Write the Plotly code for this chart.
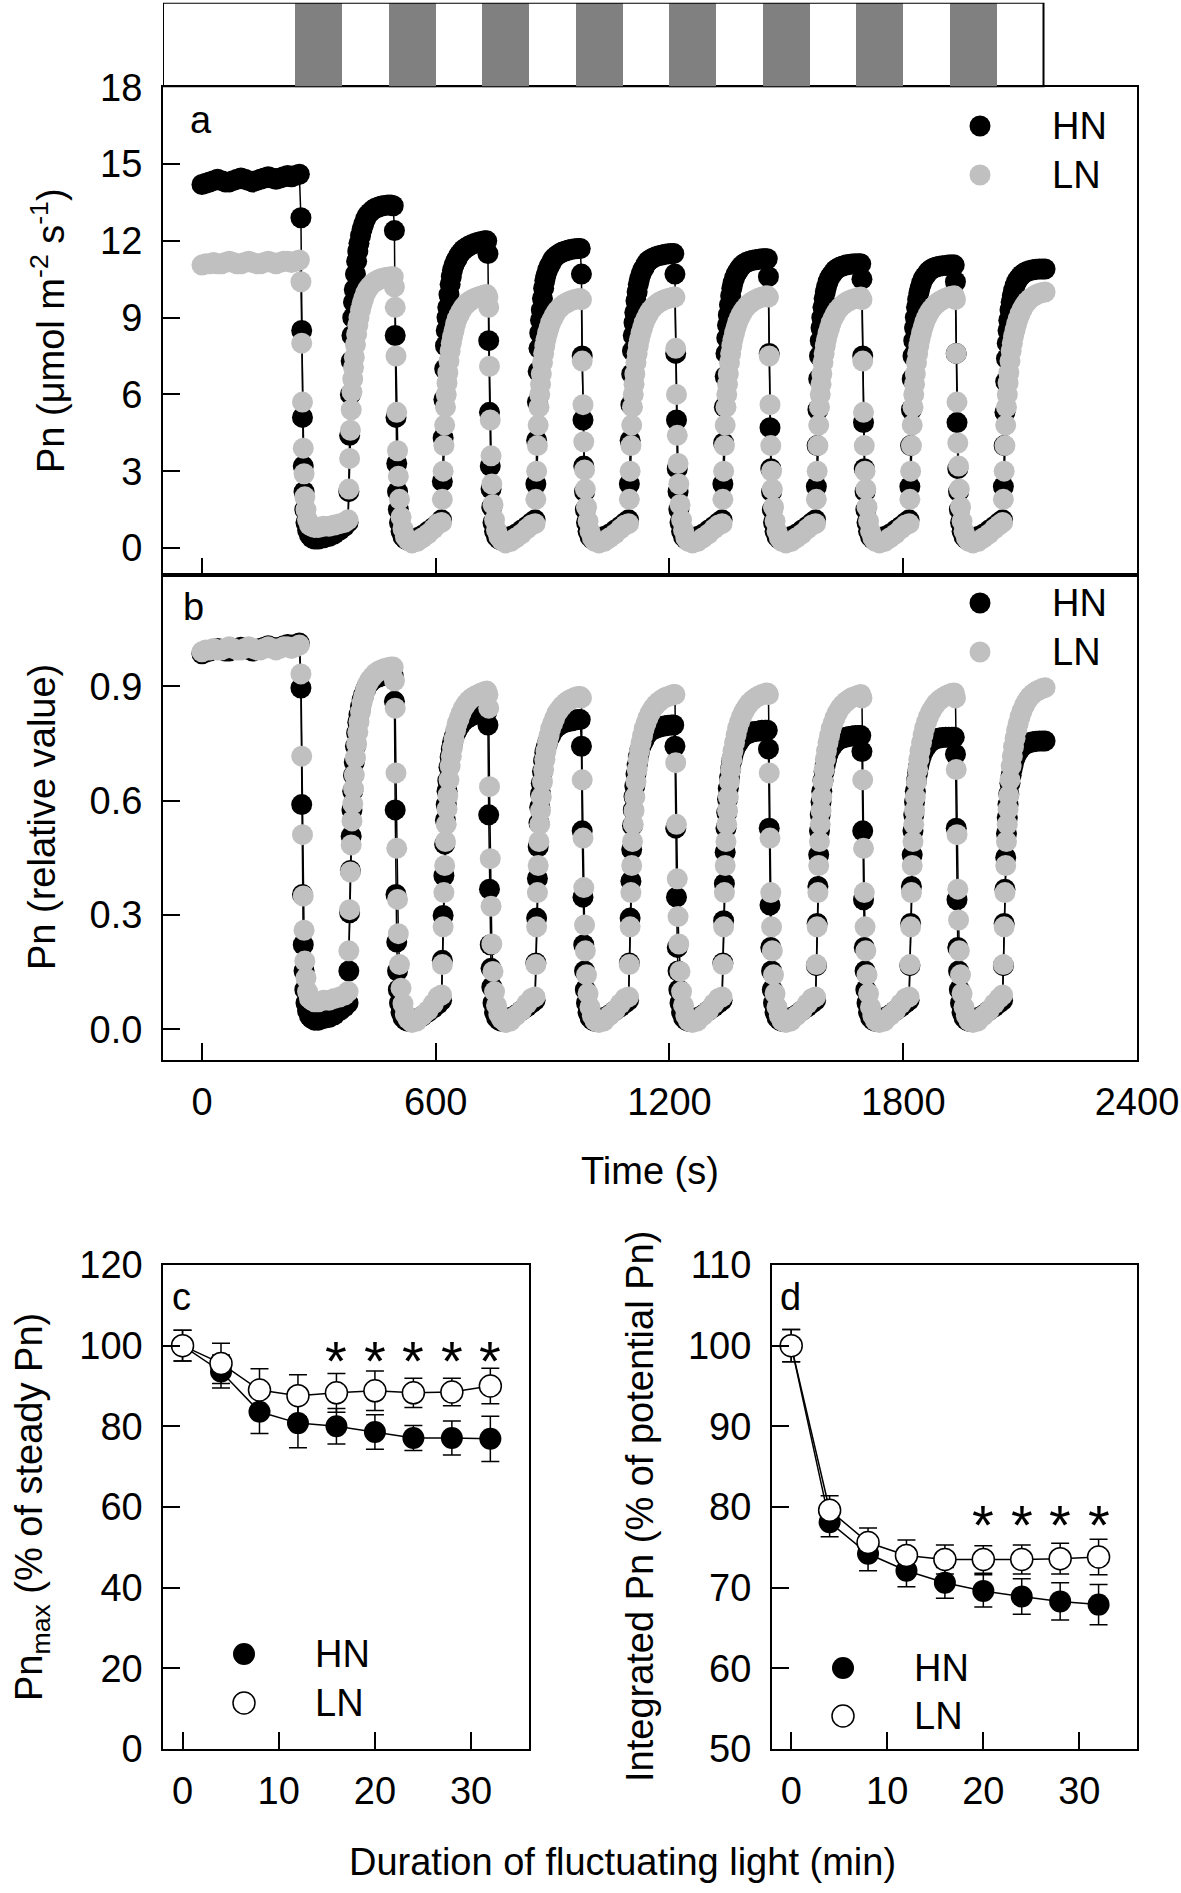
import plotly.graph_objects as go

# ---------------- light regime (top bar) ----------------
dark_start = [240, 480, 720, 960, 1200, 1440, 1680, 1920]
dark_dur = [120, 120, 120, 120, 120, 120, 120, 120]
light_program_end = 2160

# ---------------- panels a / b : time course ----------------
t = [0, 10, 20, 30, 40, 50, 60, 70, 80, 90, 100, 110, 120, 130, 140, 150, 160, 170, 180, 190, 200, 210, 220, 230, 240, 250,
     254, 256, 258, 260, 262, 264, 267, 271, 276, 282, 289, 299, 312, 326, 340, 354, 366,
     375, 377, 379, 381, 383, 385, 387, 389, 391, 394, 397, 400, 403, 407, 411, 415, 420, 425, 431, 438, 445, 453, 461, 469, 477, 485, 491,
     494, 496, 498, 500, 502, 504, 507, 511, 516, 522, 529, 539, 552, 566, 580, 594, 606,
     615, 617, 619, 621, 623, 625, 627, 629, 631, 634, 637, 640, 643, 647, 651, 655, 660, 665, 671, 678, 685, 693, 701, 709, 717, 725, 731,
     734, 736, 738, 740, 742, 744, 747, 751, 756, 762, 769, 779, 792, 806, 820, 834, 846,
     855, 857, 859, 861, 863, 865, 867, 869, 871, 874, 877, 880, 883, 887, 891, 895, 900, 905, 911, 918, 925, 933, 941, 949, 957, 965, 971,
     974, 976, 978, 980, 982, 984, 987, 991, 996, 1002, 1009, 1019, 1032, 1046, 1060, 1074, 1086,
     1095, 1097, 1099, 1101, 1103, 1105, 1107, 1109, 1111, 1114, 1117, 1120, 1123, 1127, 1131, 1135, 1140, 1145, 1151, 1158, 1165, 1173, 1181, 1189, 1197, 1205, 1211,
     1214, 1216, 1218, 1220, 1222, 1224, 1227, 1231, 1236, 1242, 1249, 1259, 1272, 1286, 1300, 1314, 1326,
     1335, 1337, 1339, 1341, 1343, 1345, 1347, 1349, 1351, 1354, 1357, 1360, 1363, 1367, 1371, 1375, 1380, 1385, 1391, 1398, 1405, 1413, 1421, 1429, 1437, 1445, 1451,
     1454, 1456, 1458, 1460, 1462, 1464, 1467, 1471, 1476, 1482, 1489, 1499, 1512, 1526, 1540, 1554, 1566,
     1575, 1577, 1579, 1581, 1583, 1585, 1587, 1589, 1591, 1594, 1597, 1600, 1603, 1607, 1611, 1615, 1620, 1625, 1631, 1638, 1645, 1653, 1661, 1669, 1677, 1685, 1691,
     1694, 1696, 1698, 1700, 1702, 1704, 1707, 1711, 1716, 1722, 1729, 1739, 1752, 1766, 1780, 1794, 1806,
     1815, 1817, 1819, 1821, 1823, 1825, 1827, 1829, 1831, 1834, 1837, 1840, 1843, 1847, 1851, 1855, 1860, 1865, 1871, 1878, 1885, 1893, 1901, 1909, 1917, 1925, 1931,
     1934, 1936, 1938, 1940, 1942, 1944, 1947, 1951, 1956, 1962, 1969, 1979, 1992, 2006, 2020, 2034, 2046,
     2055, 2057, 2059, 2061, 2063, 2065, 2067, 2069, 2071, 2074, 2077, 2080, 2083, 2087, 2091, 2095, 2100, 2105, 2111, 2118, 2125, 2133, 2141, 2149, 2157, 2164]

# Pn (umol m-2 s-1), HN
hn_a = [14.2, 14.25, 14.3, 14.35, 14.4, 14.35, 14.3, 14.3, 14.35, 14.4, 14.45, 14.4, 14.35, 14.3, 14.35, 14.4, 14.45, 14.5, 14.45, 14.4, 14.45, 14.5, 14.55, 14.5, 14.55, 14.6,
        12.9, 8.5, 5.1, 3.2, 2.2, 1.5, 1.0, 0.7, 0.5, 0.4, 0.35, 0.35, 0.4, 0.45, 0.55, 0.7, 0.85,
        1.0, 2.2, 4.4, 6.0, 7.3, 8.3, 9.0, 9.6, 10.1, 10.7, 11.2, 11.6, 11.9, 12.2, 12.45, 12.65, 12.85, 13.0, 13.1, 13.2, 13.27, 13.32, 13.36, 13.38, 13.4, 13.4, 13.37,
        12.4, 8.3, 5.1, 3.3, 2.2, 1.5, 1.0, 0.65, 0.45, 0.35, 0.3, 0.3, 0.4, 0.5, 0.65, 0.8, 0.95,
        1.1, 2.6, 4.3, 5.8, 7.0, 7.9, 8.5, 9.0, 9.4, 9.9, 10.3, 10.6, 10.85, 11.05, 11.2, 11.3, 11.45, 11.55, 11.65, 11.73, 11.8, 11.86, 11.9, 11.94, 11.97, 12.0, 12.0,
        11.5, 8.1, 5.3, 3.2, 2.3, 1.6, 1.0, 0.65, 0.45, 0.35, 0.3, 0.35, 0.45, 0.55, 0.7, 0.85, 1.0,
        1.1, 2.5, 4.2, 5.7, 6.9, 7.8, 8.4, 8.9, 9.3, 9.75, 10.15, 10.45, 10.65, 10.85, 11.0, 11.1, 11.25, 11.35, 11.43, 11.5, 11.56, 11.6, 11.64, 11.67, 11.69, 11.7, 11.7,
        10.7, 7.5, 5.0, 3.2, 2.2, 1.5, 1.0, 0.65, 0.45, 0.35, 0.3, 0.35, 0.45, 0.55, 0.7, 0.85, 1.0,
        1.1, 2.5, 4.2, 5.6, 6.8, 7.7, 8.3, 8.8, 9.2, 9.65, 10.0, 10.3, 10.5, 10.7, 10.85, 10.95, 11.1, 11.2, 11.27, 11.33, 11.38, 11.42, 11.45, 11.47, 11.49, 11.5, 11.5,
        10.7, 7.6, 5.0, 3.1, 2.2, 1.5, 1.0, 0.65, 0.45, 0.35, 0.3, 0.35, 0.45, 0.55, 0.7, 0.85, 1.0,
        1.1, 2.5, 4.1, 5.5, 6.7, 7.6, 8.2, 8.7, 9.1, 9.5, 9.85, 10.15, 10.35, 10.55, 10.7, 10.8, 10.92, 11.02, 11.1, 11.16, 11.2, 11.24, 11.26, 11.28, 11.3, 11.3, 11.3,
        10.6, 7.6, 4.7, 3.1, 2.2, 1.5, 1.0, 0.65, 0.45, 0.35, 0.3, 0.35, 0.45, 0.55, 0.7, 0.85, 1.0,
        1.1, 2.4, 4.0, 5.4, 6.6, 7.5, 8.1, 8.6, 9.0, 9.4, 9.75, 10.0, 10.2, 10.4, 10.55, 10.65, 10.75, 10.85, 10.92, 10.98, 11.02, 11.05, 11.07, 11.09, 11.1, 11.1, 11.1,
        10.5, 7.5, 4.9, 3.1, 2.2, 1.5, 1.0, 0.65, 0.45, 0.35, 0.3, 0.35, 0.45, 0.55, 0.7, 0.85, 1.0,
        1.1, 2.4, 4.0, 5.4, 6.6, 7.5, 8.1, 8.6, 9.0, 9.4, 9.7, 9.95, 10.15, 10.35, 10.5, 10.6, 10.7, 10.8, 10.88, 10.94, 10.98, 11.01, 11.03, 11.04, 11.05, 11.05, 11.05,
        10.4, 7.6, 4.9, 3.1, 2.2, 1.5, 1.0, 0.65, 0.45, 0.35, 0.3, 0.35, 0.45, 0.55, 0.7, 0.85, 1.0,
        1.1, 2.4, 4.0, 5.3, 6.5, 7.4, 8.0, 8.5, 8.9, 9.3, 9.6, 9.85, 10.05, 10.25, 10.4, 10.5, 10.6, 10.68, 10.75, 10.8, 10.84, 10.87, 10.89, 10.9, 10.9, 10.9]

# Pn (umol m-2 s-1), LN
ln_a = [11.05, 11.1, 11.1, 11.15, 11.1, 11.1, 11.15, 11.2, 11.15, 11.1, 11.1, 11.15, 11.2, 11.15, 11.1, 11.1, 11.15, 11.2, 11.15, 11.1, 11.15, 11.2, 11.2, 11.15, 11.2, 11.25,
        10.4, 8.0, 5.7, 3.9, 2.9, 2.0, 1.5, 1.1, 0.9, 0.85, 0.8, 0.8, 0.85, 0.85, 0.9, 0.95, 1.0,
        1.1, 2.3, 3.5, 4.6, 5.4, 6.1, 6.6, 7.05, 7.45, 7.95, 8.35, 8.7, 9.0, 9.3, 9.55, 9.75, 9.95, 10.1, 10.22, 10.33, 10.41, 10.48, 10.53, 10.56, 10.58, 10.6, 10.6,
        10.2, 9.4, 7.5, 5.3, 3.8, 2.8, 1.9, 1.2, 0.75, 0.45, 0.3, 0.2, 0.25, 0.4, 0.55, 0.75, 0.95,
        1.0, 1.9, 3.0, 4.0, 4.8, 5.5, 6.0, 6.45, 6.85, 7.3, 7.7, 8.0, 8.25, 8.5, 8.75, 8.95, 9.1, 9.25, 9.4, 9.52, 9.62, 9.7, 9.76, 9.8, 9.84, 9.88, 9.9,
        9.8, 9.4, 7.1, 5.0, 3.6, 2.5, 1.7, 1.1, 0.7, 0.45, 0.3, 0.2, 0.25, 0.4, 0.55, 0.75, 0.9,
        0.95, 1.9, 3.0, 4.0, 4.8, 5.5, 6.0, 6.4, 6.8, 7.25, 7.6, 7.9, 8.15, 8.4, 8.6, 8.8, 8.95, 9.1, 9.25, 9.37, 9.47, 9.55, 9.62, 9.67, 9.71, 9.74, 9.75,
        9.7, 7.3, 5.6, 4.15, 3.05, 2.3, 1.6, 1.05, 0.65, 0.4, 0.25, 0.2, 0.25, 0.4, 0.55, 0.75, 0.9,
        0.95, 1.9, 3.0, 4.0, 4.8, 5.5, 6.0, 6.4, 6.8, 7.25, 7.6, 7.9, 8.15, 8.4, 8.6, 8.8, 8.97, 9.12, 9.27, 9.4, 9.5, 9.59, 9.66, 9.71, 9.75, 9.78, 9.8,
        9.8, 7.8, 6.0, 4.4, 3.3, 2.5, 1.7, 1.1, 0.7, 0.4, 0.25, 0.2, 0.25, 0.4, 0.55, 0.75, 0.9,
        0.95, 1.9, 3.0, 4.0, 4.8, 5.5, 6.0, 6.4, 6.8, 7.25, 7.6, 7.9, 8.15, 8.4, 8.62, 8.82, 9.0, 9.15, 9.3, 9.43, 9.54, 9.63, 9.7, 9.76, 9.8, 9.83, 9.85,
        9.8, 7.5, 5.6, 4.0, 3.0, 2.3, 1.6, 1.05, 0.65, 0.4, 0.25, 0.2, 0.25, 0.4, 0.55, 0.75, 0.9,
        0.95, 1.9, 3.0, 4.0, 4.8, 5.5, 6.0, 6.4, 6.8, 7.25, 7.6, 7.9, 8.15, 8.4, 8.6, 8.8, 8.97, 9.12, 9.27, 9.4, 9.5, 9.59, 9.66, 9.71, 9.75, 9.78, 9.8,
        9.7, 7.3, 5.3, 4.0, 3.0, 2.3, 1.6, 1.05, 0.65, 0.4, 0.25, 0.2, 0.25, 0.4, 0.55, 0.75, 0.9,
        0.95, 1.9, 3.0, 4.0, 4.8, 5.5, 6.0, 6.4, 6.8, 7.25, 7.6, 7.9, 8.15, 8.4, 8.62, 8.82, 9.0, 9.15, 9.3, 9.43, 9.54, 9.63, 9.7, 9.76, 9.8, 9.83, 9.85,
        9.7, 7.6, 5.7, 4.1, 3.2, 2.3, 1.6, 1.05, 0.65, 0.4, 0.25, 0.2, 0.25, 0.4, 0.55, 0.75, 0.9,
        1.0, 1.9, 3.0, 4.0, 4.8, 5.5, 6.0, 6.45, 6.85, 7.3, 7.7, 8.0, 8.27, 8.52, 8.75, 8.95, 9.15, 9.32, 9.48, 9.62, 9.73, 9.82, 9.89, 9.94, 9.98, 10.0]

# Pn (relative value), HN
hn_b = [0.986, 0.990, 0.993, 0.997, 1.0, 0.997, 0.993, 0.993, 0.997, 1.0, 1.003, 1.0, 0.997, 0.993, 0.997, 1.0, 1.003, 1.007, 1.003, 1.0, 1.003, 1.007, 1.010, 1.007, 1.010, 1.014,
        0.896, 0.590, 0.354, 0.222, 0.153, 0.104, 0.069, 0.049, 0.035, 0.028, 0.024, 0.024, 0.028, 0.031, 0.038, 0.049, 0.059,
        0.069, 0.153, 0.306, 0.417, 0.507, 0.576, 0.625, 0.667, 0.701, 0.743, 0.778, 0.806, 0.826, 0.847, 0.865, 0.878, 0.892, 0.903, 0.910, 0.917, 0.922, 0.925, 0.928, 0.929, 0.931, 0.931, 0.928,
        0.861, 0.576, 0.354, 0.229, 0.153, 0.104, 0.069, 0.045, 0.031, 0.024, 0.021, 0.021, 0.028, 0.035, 0.045, 0.056, 0.066,
        0.076, 0.181, 0.299, 0.403, 0.486, 0.549, 0.590, 0.625, 0.653, 0.688, 0.715, 0.736, 0.753, 0.767, 0.778, 0.785, 0.795, 0.802, 0.809, 0.815, 0.819, 0.824, 0.826, 0.829, 0.831, 0.833, 0.833,
        0.799, 0.563, 0.368, 0.222, 0.160, 0.111, 0.069, 0.045, 0.031, 0.024, 0.021, 0.024, 0.031, 0.038, 0.049, 0.059, 0.069,
        0.076, 0.174, 0.292, 0.396, 0.479, 0.542, 0.583, 0.618, 0.646, 0.677, 0.705, 0.726, 0.740, 0.753, 0.764, 0.771, 0.781, 0.788, 0.794, 0.799, 0.803, 0.806, 0.808, 0.810, 0.812, 0.813, 0.813,
        0.743, 0.521, 0.347, 0.222, 0.153, 0.104, 0.069, 0.045, 0.031, 0.024, 0.021, 0.024, 0.031, 0.038, 0.049, 0.059, 0.069,
        0.076, 0.174, 0.292, 0.389, 0.472, 0.535, 0.576, 0.611, 0.639, 0.670, 0.694, 0.715, 0.729, 0.743, 0.753, 0.760, 0.771, 0.778, 0.783, 0.787, 0.790, 0.793, 0.795, 0.797, 0.798, 0.799, 0.799,
        0.743, 0.528, 0.347, 0.215, 0.153, 0.104, 0.069, 0.045, 0.031, 0.024, 0.021, 0.024, 0.031, 0.038, 0.049, 0.059, 0.069,
        0.076, 0.174, 0.285, 0.382, 0.465, 0.528, 0.569, 0.604, 0.632, 0.660, 0.684, 0.705, 0.719, 0.733, 0.743, 0.750, 0.758, 0.765, 0.771, 0.775, 0.778, 0.781, 0.782, 0.783, 0.785, 0.785, 0.785,
        0.736, 0.528, 0.326, 0.215, 0.153, 0.104, 0.069, 0.045, 0.031, 0.024, 0.021, 0.024, 0.031, 0.038, 0.049, 0.059, 0.069,
        0.076, 0.167, 0.278, 0.375, 0.458, 0.521, 0.563, 0.597, 0.625, 0.653, 0.677, 0.694, 0.708, 0.722, 0.733, 0.740, 0.747, 0.753, 0.758, 0.763, 0.765, 0.767, 0.769, 0.770, 0.771, 0.771, 0.771,
        0.729, 0.521, 0.340, 0.215, 0.153, 0.104, 0.069, 0.045, 0.031, 0.024, 0.021, 0.024, 0.031, 0.038, 0.049, 0.059, 0.069,
        0.076, 0.167, 0.278, 0.375, 0.458, 0.521, 0.563, 0.597, 0.625, 0.653, 0.674, 0.691, 0.705, 0.719, 0.729, 0.736, 0.743, 0.750, 0.756, 0.760, 0.763, 0.765, 0.766, 0.767, 0.767, 0.767, 0.767,
        0.722, 0.528, 0.340, 0.215, 0.153, 0.104, 0.069, 0.045, 0.031, 0.024, 0.021, 0.024, 0.031, 0.038, 0.049, 0.059, 0.069,
        0.076, 0.167, 0.278, 0.368, 0.451, 0.514, 0.556, 0.590, 0.618, 0.646, 0.667, 0.684, 0.698, 0.712, 0.722, 0.729, 0.736, 0.742, 0.747, 0.750, 0.753, 0.755, 0.756, 0.757, 0.757, 0.757]

# Pn (relative value), LN
ln_b = [0.991, 0.996, 0.996, 1.0, 0.996, 0.996, 1.0, 1.004, 1.0, 0.996, 0.996, 1.0, 1.004, 1.0, 0.996, 0.996, 1.0, 1.004, 1.0, 0.996, 1.0, 1.004, 1.004, 1.0, 1.004, 1.009,
        0.933, 0.717, 0.511, 0.350, 0.260, 0.179, 0.135, 0.099, 0.081, 0.076, 0.072, 0.072, 0.076, 0.076, 0.081, 0.085, 0.090,
        0.099, 0.206, 0.314, 0.413, 0.484, 0.547, 0.592, 0.632, 0.668, 0.713, 0.749, 0.780, 0.807, 0.834, 0.857, 0.874, 0.892, 0.906, 0.917, 0.926, 0.934, 0.940, 0.944, 0.947, 0.949, 0.951, 0.951,
        0.915, 0.843, 0.673, 0.475, 0.341, 0.251, 0.170, 0.108, 0.067, 0.040, 0.027, 0.018, 0.022, 0.036, 0.049, 0.067, 0.085,
        0.090, 0.170, 0.269, 0.359, 0.430, 0.493, 0.538, 0.578, 0.614, 0.655, 0.691, 0.717, 0.740, 0.762, 0.785, 0.803, 0.816, 0.830, 0.843, 0.854, 0.863, 0.870, 0.875, 0.879, 0.883, 0.886, 0.888,
        0.879, 0.843, 0.637, 0.448, 0.323, 0.224, 0.152, 0.099, 0.063, 0.040, 0.027, 0.018, 0.022, 0.036, 0.049, 0.067, 0.081,
        0.085, 0.170, 0.269, 0.359, 0.430, 0.493, 0.538, 0.574, 0.610, 0.650, 0.682, 0.709, 0.731, 0.753, 0.771, 0.789, 0.803, 0.816, 0.830, 0.840, 0.849, 0.857, 0.863, 0.867, 0.871, 0.874, 0.874,
        0.870, 0.655, 0.502, 0.372, 0.274, 0.206, 0.143, 0.094, 0.058, 0.036, 0.022, 0.018, 0.022, 0.036, 0.049, 0.067, 0.081,
        0.085, 0.170, 0.269, 0.359, 0.430, 0.493, 0.538, 0.574, 0.610, 0.650, 0.682, 0.709, 0.731, 0.753, 0.771, 0.789, 0.804, 0.818, 0.831, 0.843, 0.852, 0.860, 0.866, 0.871, 0.874, 0.877, 0.879,
        0.879, 0.700, 0.538, 0.395, 0.296, 0.224, 0.152, 0.099, 0.063, 0.036, 0.022, 0.018, 0.022, 0.036, 0.049, 0.067, 0.081,
        0.085, 0.170, 0.269, 0.359, 0.430, 0.493, 0.538, 0.574, 0.610, 0.650, 0.682, 0.709, 0.731, 0.753, 0.773, 0.791, 0.807, 0.821, 0.834, 0.846, 0.856, 0.864, 0.870, 0.875, 0.879, 0.882, 0.883,
        0.879, 0.673, 0.502, 0.359, 0.269, 0.206, 0.143, 0.094, 0.058, 0.036, 0.022, 0.018, 0.022, 0.036, 0.049, 0.067, 0.081,
        0.085, 0.170, 0.269, 0.359, 0.430, 0.493, 0.538, 0.574, 0.610, 0.650, 0.682, 0.709, 0.731, 0.753, 0.771, 0.789, 0.804, 0.818, 0.831, 0.843, 0.852, 0.860, 0.866, 0.871, 0.874, 0.877, 0.879,
        0.870, 0.655, 0.475, 0.359, 0.269, 0.206, 0.143, 0.094, 0.058, 0.036, 0.022, 0.018, 0.022, 0.036, 0.049, 0.067, 0.081,
        0.085, 0.170, 0.269, 0.359, 0.430, 0.493, 0.538, 0.574, 0.610, 0.650, 0.682, 0.709, 0.731, 0.753, 0.773, 0.791, 0.807, 0.821, 0.834, 0.846, 0.856, 0.864, 0.870, 0.875, 0.879, 0.882, 0.883,
        0.870, 0.682, 0.511, 0.368, 0.287, 0.206, 0.143, 0.094, 0.058, 0.036, 0.022, 0.018, 0.022, 0.036, 0.049, 0.067, 0.081,
        0.090, 0.170, 0.269, 0.359, 0.430, 0.493, 0.538, 0.578, 0.614, 0.655, 0.691, 0.717, 0.742, 0.764, 0.785, 0.803, 0.821, 0.836, 0.850, 0.863, 0.873, 0.881, 0.887, 0.891, 0.895, 0.897]

# ---------------- panels c / d ----------------
dur = [0, 4, 8, 12, 16, 20, 24, 28, 32]
hn_c = [100, 93.6, 83.6, 80.8, 80.0, 78.6, 77.1, 77.1, 76.9]
hn_c_err = [3.8, 4.1, 5.4, 6.1, 4.4, 4.3, 3.1, 4.2, 5.6]
ln_c = [100, 95.6, 89.0, 87.6, 88.3, 88.8, 88.3, 88.5, 90.0]
ln_c_err = [3.8, 5.0, 5.3, 5.2, 4.8, 4.9, 3.6, 3.4, 4.4]
sig_c = [16, 20, 24, 28, 32]
sig_level_c = 97.2

hn_d = [100, 78.1, 74.2, 72.1, 70.6, 69.6, 68.9, 68.3, 67.9]
hn_d_err = [2.0, 1.8, 2.1, 2.0, 1.9, 2.0, 2.2, 2.3, 2.5]
ln_d = [100, 79.6, 75.6, 74.0, 73.5, 73.5, 73.5, 73.6, 73.8]
ln_d_err = [2.0, 1.8, 1.8, 1.9, 1.8, 1.7, 1.8, 1.9, 2.2]
sig_d = [20, 24, 28, 32]
sig_level_d = 78.6

assert len(t) == len(hn_a) == len(ln_a) == len(hn_b) == len(ln_b)

# ---------------- layout helpers ----------------
W, H = 1181, 1893
FONT = "Arial, 'Liberation Sans', sans-serif"
FS = 38
GRAY = "#c0c0c0"


def px(x):
    return x / W


def py(y):
    return 1 - y / H


fig = go.Figure()

# light regime bar
fig.add_trace(go.Bar(x=dark_dur, base=dark_start, y=[0.5] * len(dark_start), orientation="h", width=1,
                     marker=dict(color="#808080", line=dict(width=0)), xaxis="x5", yaxis="y5",
                     showlegend=False, hoverinfo="skip"))

lk = dict(color="black", width=1.5)
fig.add_trace(go.Scatter(x=t, y=hn_a, mode="lines+markers", line=lk, marker=dict(size=21, color="black"),
                         xaxis="x", yaxis="y", showlegend=False))
fig.add_trace(go.Scatter(x=t, y=ln_a, mode="lines+markers", line=lk, marker=dict(size=21, color=GRAY),
                         xaxis="x", yaxis="y", showlegend=False))
fig.add_trace(go.Scatter(x=t, y=hn_b, mode="lines+markers", line=lk, marker=dict(size=21, color="black"),
                         xaxis="x2", yaxis="y2", showlegend=False))
fig.add_trace(go.Scatter(x=t, y=ln_b, mode="lines+markers", line=lk, marker=dict(size=21, color=GRAY),
                         xaxis="x2", yaxis="y2", showlegend=False))


def eb(arr):
    return dict(type="data", array=arr, visible=True, color="black", thickness=1.5, width=9)


fig.add_trace(go.Scatter(x=dur, y=hn_c, error_y=eb(hn_c_err), mode="lines+markers", line=lk,
                         marker=dict(size=22, color="black"), xaxis="x3", yaxis="y3", showlegend=False))
fig.add_trace(go.Scatter(x=dur, y=ln_c, error_y=eb(ln_c_err), mode="lines+markers", line=lk,
                         marker=dict(size=22, color="white", line=dict(color="black", width=1.5)),
                         xaxis="x3", yaxis="y3", showlegend=False))
fig.add_trace(go.Scatter(x=dur, y=hn_d, error_y=eb(hn_d_err), mode="lines+markers", line=lk,
                         marker=dict(size=22, color="black"), xaxis="x4", yaxis="y4", showlegend=False))
fig.add_trace(go.Scatter(x=dur, y=ln_d, error_y=eb(ln_d_err), mode="lines+markers", line=lk,
                         marker=dict(size=22, color="white", line=dict(color="black", width=1.5)),
                         xaxis="x4", yaxis="y4", showlegend=False))

ax_common = dict(showline=True, linecolor="black", linewidth=2, mirror=True, ticks="inside", ticklen=17,
                 tickwidth=2, tickcolor="black", showgrid=False, zeroline=False, automargin=False,
                 tickfont=dict(family=FONT, size=FS, color="black"))

YSO = 11   # y tick-label standoff
XSO = 7    # x tick-label standoff
XAB = [px(163), px(1137)]
fig.update_layout(
    template="none",
    width=W, height=H, margin=dict(l=0, r=0, t=0, b=0, pad=0, autoexpand=False),
    paper_bgcolor="white", plot_bgcolor="white",
    font=dict(family=FONT, size=FS, color="black"), showlegend=False, bargap=0,
    xaxis=dict(domain=XAB, anchor="y", range=[-100, 2400], tickvals=[0, 600, 1200, 1800, 2400],
               showticklabels=False, **ax_common),
    yaxis=dict(domain=[py(574.5), py(87.2)], anchor="x", range=[-1.035, 18],
               tickvals=[0, 3, 6, 9, 12, 15, 18], ticklabelstandoff=YSO, **ax_common),
    xaxis2=dict(domain=XAB, anchor="y2", range=[-100, 2400], tickvals=[0, 600, 1200, 1800, 2400],
                ticklabelstandoff=XSO, **ax_common),
    yaxis2=dict(domain=[py(1060), py(574.5)], anchor="x2", range=[-0.0806, 1.194],
                tickvals=[0, 0.3, 0.6, 0.9], ticktext=["0.0", "0.3", "0.6", "0.9"],
                ticklabelstandoff=YSO, **ax_common),
    xaxis3=dict(domain=[px(163.3), px(529.3)], anchor="y3", range=[-2, 36.05], tickvals=[0, 10, 20, 30],
                ticklabelstandoff=XSO, **ax_common),
    yaxis3=dict(domain=[py(1749), py(1265)], anchor="x3", range=[0, 120],
                tickvals=[0, 20, 40, 60, 80, 100, 120], ticklabelstandoff=YSO, **ax_common),
    xaxis4=dict(domain=[px(772), px(1137)], anchor="y4", range=[-2, 36], tickvals=[0, 10, 20, 30],
                ticklabelstandoff=XSO, **ax_common),
    yaxis4=dict(domain=[py(1749), py(1265)], anchor="x4", range=[50, 110],
                tickvals=[50, 60, 70, 80, 90, 100, 110], ticklabelstandoff=YSO, **ax_common),
    xaxis5=dict(domain=XAB, anchor="y5", range=[-100, 2400], visible=False, showgrid=False, zeroline=False,
                automargin=False),
    yaxis5=dict(domain=[py(87.2), py(2.7)], anchor="x5", range=[0, 1], visible=False, showgrid=False,
                zeroline=False, automargin=False),
)

shapes = [dict(type="rect", xref="x5", yref="y5", x0=-100, x1=light_program_end, y0=0, y1=1,
               line=dict(color="black", width=2), fillcolor="rgba(0,0,0,0)", layer="above")]


def dot(cx, cy, r, fill, outline=0):
    return dict(type="circle", xref="paper", yref="paper", xsizemode="pixel", ysizemode="pixel",
                xanchor=px(cx), yanchor=py(cy), x0=-r, x1=r, y0=-r, y1=r, fillcolor=fill,
                line=dict(color="black", width=outline))


shapes += [dot(980, 126, 10.5, "black"), dot(980, 175, 10.5, GRAY),
           dot(980, 603, 10.5, "black"), dot(980, 652, 10.5, GRAY),
           dot(244, 1654, 11, "black"), dot(244, 1703, 11, "white", 1.5),
           dot(843, 1668, 11, "black"), dot(843, 1716, 11, "white", 1.5)]

ann = []


def txt(x, y, s, xanchor="center", angle=0, size=FS):
    ann.append(dict(x=px(x), y=py(y), xref="paper", yref="paper", text=s, showarrow=False,
                    xanchor=xanchor, yanchor="middle", textangle=angle,
                    font=dict(family=FONT, size=size, color="black")))


# legends
for lx, (yh, yl) in [(1050, (126, 175)), (1050, (603, 652)), (313, (1654, 1703)), (912, (1668, 1716))]:
    txt(lx, yh, "HN", xanchor="left")
    txt(lx, yl, "LN", xanchor="left")

# panel letters
txt(201, 120, "a")
txt(193, 607, "b")
txt(181, 1297, "c")
txt(790, 1297, "d")

# axis titles
txt(48, 331, "Pn (μmol m<sup>-2</sup> s<sup>-1</sup>)", angle=-90)
txt(42, 817, "Pn (relative value)", angle=-90)
txt(32, 1507, "Pn<sub>max</sub> (% of steady Pn)", angle=-90)
txt(640, 1507, "Integrated Pn (% of potential Pn)", angle=-90)
txt(650, 1171, "Time (s)")
txt(347, 1862, "Duration of fluctuating light (min)", xanchor="left")

# significance stars
for xv in sig_c:
    ann.append(dict(x=xv, y=sig_level_c, xref="x3", yref="y3", text="*", showarrow=False, yshift=-4,
                    font=dict(family=FONT, size=56, color="black")))
for xv in sig_d:
    ann.append(dict(x=xv, y=sig_level_d, xref="x4", yref="y4", text="*", showarrow=False, yshift=-6,
                    font=dict(family=FONT, size=56, color="black")))

fig.update_layout(shapes=shapes, annotations=ann)
fig.write_html("out.html", config={"displayModeBar": False, "responsive": False},
               post_script="document.body.style.margin='0';document.body.style.padding='0';")
